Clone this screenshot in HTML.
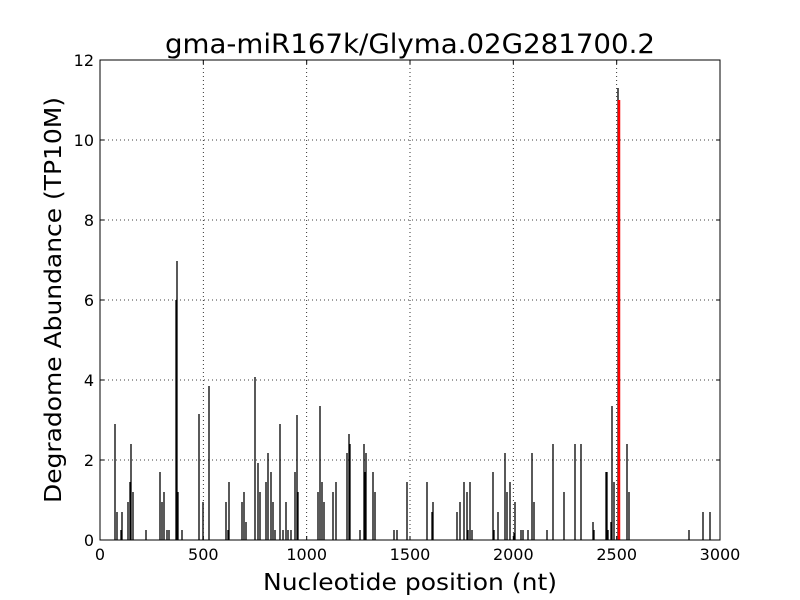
<!DOCTYPE html>
<html><head><meta charset="utf-8"><style>body{margin:0;background:#fff}svg{display:block}</style></head><body>
<svg width="800" height="600" xmlns="http://www.w3.org/2000/svg" font-family="DejaVu Sans, Liberation Sans, sans-serif">
<rect width="800" height="600" fill="#fff"/>
<g stroke="#000" stroke-width="0.8" stroke-dasharray="1,3">
<line x1="203.3" y1="60" x2="203.3" y2="540"/><line x1="306.7" y1="60" x2="306.7" y2="540"/><line x1="410" y1="60" x2="410" y2="540"/><line x1="513.3" y1="60" x2="513.3" y2="540"/><line x1="616.7" y1="60" x2="616.7" y2="540"/>
<line x1="100" y1="140" x2="720" y2="140"/><line x1="100" y1="220" x2="720" y2="220"/><line x1="100" y1="300" x2="720" y2="300"/><line x1="100" y1="380" x2="720" y2="380"/><line x1="100" y1="460" x2="720" y2="460"/>
</g>
<path stroke="#000" stroke-width="1.3" fill="none" d="
M115 540V424 M117 540V512 M121 540V530 M122 540V512 M128 540V502 M130 540V482 M131 540V444 M133 540V492 M146 540V530 M160 540V472 M162 540V502 M164 540V492 M167 540V530 M169 540V530 M176 540V300 M177 540V261 M178 540V492 M182 540V530 M199 540V414 M203 540V502 M209 540V386 M226 540V502 M228 540V530 M229 540V482 M242 540V502 M244 540V492 M246 540V522 M255 540V377 M258 540V463 M260 540V492 M266 540V482 M268 540V453 M271 540V472 M273 540V502 M275 540V530 M280 540V424 M283 540V530 M286 540V502 M288 540V530 M291 540V530 M295 540V472 M297 540V415 M298 540V492 M318 540V492 M320 540V406 M322 540V482 M324 540V502 M333 540V492 M336 540V482 M347 540V453 M349 540V434 M350 540V444 M360 540V530 M364 540V444 M365 540V472 M366 540V453 M373 540V472 M375 540V492 M394 540V530 M397 540V530 M407 540V482
M427 540V482 M432 540V512 M433 540V502 M457 540V512 M460 540V502 M464 540V482 M467 540V492 M468 540V530 M470 540V482 M472 540V530 M493 540V472 M494 540V530 M498 540V512 M505 540V453 M507 540V492 M510 540V482 M514 540V533 M515 540V502 M521 540V530 M523 540V530 M528 540V530 M532 540V453 M534 540V502 M547 540V530 M553 540V444 M564 540V492 M575 540V444 M581 540V444 M593 540V522 M594 540V530 M606 540V472 M607 540V472 M608 540V530 M611 540V522 M612 540V406 M614 540V482 M618 540V88 M627 540V444 M629 540V492 M689 540V530 M703 540V512 M710 540V512"/>
<line x1="619" y1="540" x2="619" y2="100" stroke="#f00" stroke-width="2.5"/>
<rect x="100" y="60" width="620" height="480" fill="none" stroke="#000" stroke-width="1"/>
<g stroke="#000" stroke-width="1">
<path d="M100 540v-4M203.3 540v-4M306.7 540v-4M410 540v-4M513.3 540v-4M616.7 540v-4M720 540v-4M100 60v4M203.3 60v4M306.7 60v4M410 60v4M513.3 60v4M616.7 60v4M720 60v4"/>
<path d="M100 540h4M100 460h4M100 380h4M100 300h4M100 220h4M100 140h4M100 60h4M720 540h-4M720 460h-4M720 380h-4M720 300h-4M720 220h-4M720 140h-4M720 60h-4"/>
</g>
<g font-size="16" text-anchor="middle" fill="#000">
<text x="100" y="560">0</text><text x="203.3" y="560">500</text><text x="306.7" y="560">1000</text><text x="410" y="560">1500</text><text x="513.3" y="560">2000</text><text x="616.7" y="560">2500</text><text x="720" y="560">3000</text>
</g>
<g font-size="16" text-anchor="end" fill="#000">
<text x="94" y="546">0</text><text x="94" y="466">2</text><text x="94" y="386">4</text><text x="94" y="306">6</text><text x="94" y="226">8</text><text x="94" y="146">10</text><text x="94" y="66">12</text>
</g>
<text x="263" y="590" font-size="23" textLength="294" lengthAdjust="spacingAndGlyphs">Nucleotide position (nt)</text>
<text transform="translate(61,503) rotate(-90)" font-size="23" textLength="406" lengthAdjust="spacingAndGlyphs">Degradome Abundance (TP10M)</text>
<text x="165" y="53" font-size="27" textLength="490" lengthAdjust="spacingAndGlyphs">gma-miR167k/Glyma.02G281700.2</text>
</svg>
</body></html>
